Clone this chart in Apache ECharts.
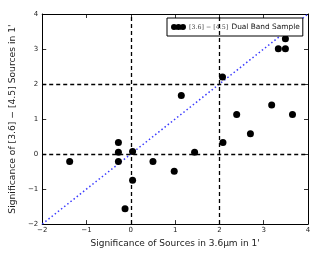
<!DOCTYPE html>
<html><head><meta charset="utf-8">
<script src="https://cdn.jsdelivr.net/npm/echarts@6/dist/echarts.min.js"></script>
<style>html,body{margin:0;padding:0;background:#fff}#c{width:322px;height:253px}</style>
</head><body><div id="c"></div>
<script>
var xVals = [-0.28,-0.28,-0.28,-1.38,0.04,0.04,-0.13,0.50,0.98,1.44,2.08,2.70,1.14,2.07,2.39,3.18,3.65,3.33,3.49,3.49];
var yVals = [0.33,0.05,-0.21,-0.21,0.07,-0.75,-1.56,-0.21,-0.49,0.05,0.33,0.58,1.67,2.20,1.13,1.40,1.13,3.01,3.01,3.29];
var xTicks = [-2,-1,0,1,2,3,4];
var yTicks = [-2,-1,0,1,2,3,4];
var refX = [0,2];
var refY = [0,2];
var diagonal = [-2,4];
var seriesName = '[3.6] − [4.5] Dual Band Sample';

var pts = xVals.map(function(x,i){return [x,yVals[i]];});
var chart = echarts.init(document.getElementById('c'));
var tickStyle = {inside:true,length:4,lineStyle:{color:'#000',width:0.8}};
function xAx(pos, show){
  return {type:'value',position:pos,min:xTicks[0],max:xTicks[xTicks.length-1],interval:1,
    axisLine:{onZero:false,lineStyle:{color:'#000',width:1}},axisTick:tickStyle,
    splitLine:{show:false},
    axisLabel:{show:show,color:'#222',fontSize:7,fontFamily:'DejaVu Sans',margin:3,
      formatter:function(v){return String(v).replace('-','−');}},
    name:show?'Significance of Sources in 3.6μm in 1\'':'',nameLocation:'middle',nameGap:14,
    nameTextStyle:{color:'#222',fontSize:9,fontFamily:'DejaVu Sans'}};
}
function yAx(pos, show){
  return {type:'value',position:pos,min:yTicks[0],max:yTicks[yTicks.length-1],interval:1,
    axisLine:{onZero:false,lineStyle:{color:'#000',width:1}},axisTick:tickStyle,
    splitLine:{show:false},
    axisLabel:{show:show,color:'#222',fontSize:7,fontFamily:'DejaVu Sans',margin:4,
      formatter:function(v){return String(v).replace('-','−');}},
    name:show?'Significance of [3.6] − [4.5] Sources in 1\'':'',nameLocation:'middle',nameGap:18,
    nameTextStyle:{color:'#222',fontSize:9.2,fontFamily:'DejaVu Sans'}};
}
chart.setOption({
  animation:false,
  grid:{left:30,right:14,top:14,bottom:23},
  xAxis:[xAx('bottom',true),xAx('top',false)],
  yAxis:[yAx('left',true),yAx('right',false)],
  legend:{show:true,left:167,top:18,itemWidth:15,itemHeight:6,itemGap:2,
    padding:[3,3,3,4],borderColor:'#000',borderWidth:1,borderRadius:0,backgroundColor:'#fff',
    icon:'path://M0,3a3,3 0 1,0 6,0a3,3 0 1,0 -6,0M4.5,3a3,3 0 1,0 6,0a3,3 0 1,0 -6,0M9,3a3,3 0 1,0 6,0a3,3 0 1,0 -6,0',
    data:[{name:seriesName,itemStyle:{color:'#000',opacity:1}}],
    formatter:function(){return '{m|[3.6] − [4.5]} {t|Dual Band Sample}';},
    textStyle:{padding:[0,0,0,-2],rich:{m:{fontFamily:'DejaVu Serif',fontSize:6.3,color:'#444'},t:{fontFamily:'DejaVu Sans',fontSize:7.4,color:'#111'}}}
  },
  series:[
    {type:'line',data:[[diagonal[0],diagonal[0]],[diagonal[1],diagonal[1]]],symbol:'none',
      lineStyle:{color:'#3a3aff',width:1.5,type:[1.5,2.5]},silent:true,z:1,
      markLine:{symbol:'none',silent:true,label:{show:false},
        lineStyle:{color:'#000',width:1.3,type:[4,3]},
        data:refX.map(function(v){return {xAxis:v};}).concat(refY.map(function(v){return {yAxis:v};}))}},
    {name:seriesName,type:'scatter',data:pts,symbolSize:7,itemStyle:{color:'#000',opacity:1},z:3}
  ]
});
</script></body></html>
